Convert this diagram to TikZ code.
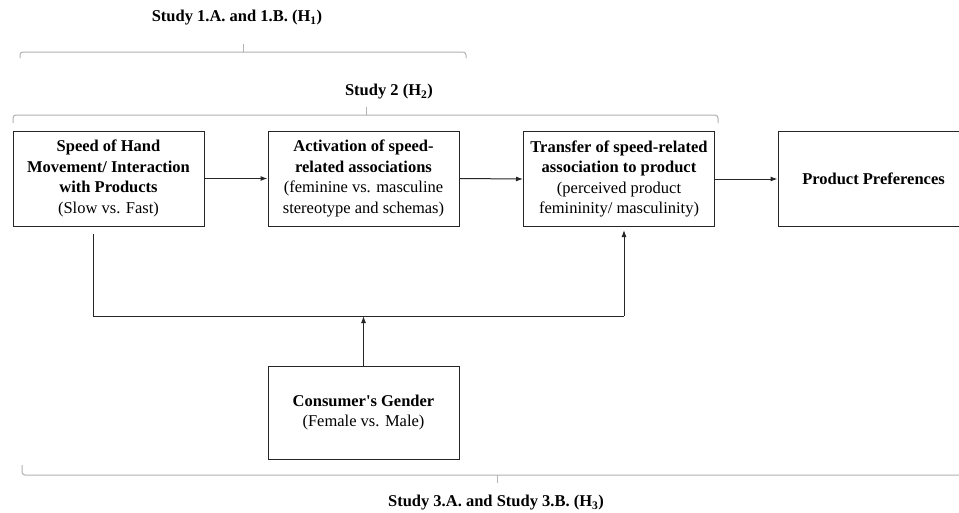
\documentclass[tikz,border=0pt]{standalone}
\usepackage{fontspec}
\setmainfont{Liberation Serif}
\usetikzlibrary{arrows.meta}
\begin{document}
\begin{tikzpicture}[x=1pt,y=-1pt,
  box/.style={draw=black!85,line width=1pt,minimum width=191pt,minimum height=95pt,
    align=center,inner sep=2pt,font=\fontsize{16.5}{20.5}\selectfont},
  conn/.style={draw=black!85,line width=1pt},
  arr/.style={conn,-{Latex[length=7pt,width=5pt]}},
  brace/.style={draw=black!30,line width=1pt,rounded corners=3pt},
  lbl/.style={font=\bfseries\fontsize{16.5}{19}\selectfont,inner sep=0pt}]
\clip (0,0) rectangle (959,512);
\fill[white] (0,0) rectangle (959,512);
% boxes
\node[box] (box1) at (108.5,178.5) {\textbf{Speed of Hand}\\\textbf{Movement/ Interaction}\\\textbf{with Products}\\(Slow vs. Fast)};
\node[box] (box2) at (363.5,178.5) {\textbf{Activation of speed-}\\\textbf{related associations}\\(feminine vs. masculine\\stereotype and schemas)};
\node[box] (box3) at (619,179) {\textbf{Transfer of speed-related}\\\textbf{association to product}\\(perceived product\\femininity/ masculinity)};
\node[box] (box4) at (873.5,179) {\textbf{Product Preferences}};
\node[box,minimum height=93pt] (gender) at (363.5,412.5) {\textbf{Consumer\textquotesingle s Gender}\\(Female vs. Male)};
% connectors
\draw[arr] (box1.east) -- (box2.west);
\draw[arr] (box2.east) -- (box3.west);
\draw[arr] (box3.east) -- (box4.west);
\coordinate (j1) at (93,316);
\coordinate (j2) at (624,316);
\draw[conn] ([yshift=-7pt]box1.south -| j1) -- (j1) -- (j2);
\draw[arr] (j2) -- ([yshift=-3pt]box3.south -| j2);
\draw[arr] (gender.north) -- (gender.north |- j1);
% braces
\draw[brace] (20,58) -- (20,52) -- (466,52) -- (466,58);
\draw[brace,rounded corners=0pt] (243,52) -- (243,44);
\node[lbl] (s1) at (237,18) {Study 1.A. and 1.B. (H\textsubscript{1})};
\draw[brace] (13,123) -- (13,115) -- (718,115) -- (718,123);
\draw[brace,rounded corners=0pt] (366,115) -- (366,107);
\node[lbl] (s2) at (389,92) {Study 2 (H\textsubscript{2})};
\draw[brace] (22,465) -- (22,475) -- (980,475);
\draw[brace,rounded corners=0pt] (497,475) -- (497,483);
\node[lbl] (s3) at (496,503) {Study 3.A. and Study 3.B. (H\textsubscript{3})};
\end{tikzpicture}
\end{document}
